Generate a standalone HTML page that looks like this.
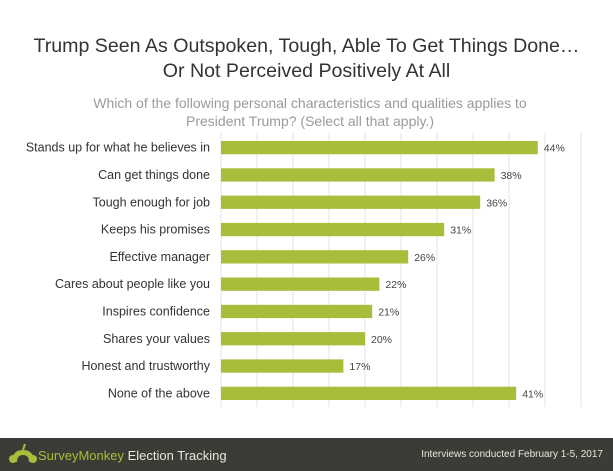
<!DOCTYPE html>
<html><head><meta charset="utf-8"><style>
body{margin:0;width:613px;height:471px;background:#fff;font-family:"Liberation Sans",sans-serif;overflow:hidden;position:relative}
.t{position:absolute;left:0;width:613px;text-align:center;color:#333;font-size:19.6px;line-height:25px}
.s{position:absolute;left:80px;width:460px;text-align:center;color:#9a9a9a;font-size:14px;line-height:18px}
#footer{position:absolute;left:0;top:438px;width:613px;height:33px;background:#3c3c36}
</style></head><body>
<div class="t" style="top:34px">Trump Seen As Outspoken, Tough, Able To Get Things Done…<br>Or Not Perceived Positively At All</div>
<div class="s" style="top:94px">Which of the following personal characteristics and qualities applies to<br>President Trump? (Select all that apply.)</div>
<svg id="chart" width="613" height="430" style="position:absolute;left:0;top:0"></svg>
<div id="footer">
<svg width="30" height="24" style="position:absolute;left:8px;top:4px"><path d="M4 20 Q4 8 15 8 Q26 8 26 20 L21 20 Q21 13 15 13 Q9 13 9 20Z" fill="#a9bd3a"/><circle cx="5" cy="17" r="4" fill="#a9bd3a"/><circle cx="25" cy="17" r="4" fill="#a9bd3a"/><path d="M15 8 L17 2" stroke="#a9bd3a" stroke-width="2"/></svg>
<span style="position:absolute;left:38px;top:10px;font-size:13px;color:#a9bd3a">SurveyMonkey <span style="color:#e8e8e0">Election Tracking</span></span>
<span style="position:absolute;right:10px;top:11px;font-size:10px;color:#e8e8e0">Interviews conducted February 1-5, 2017</span>
</div>
<script>
const categories=["Stands up for what he believes in","Can get things done","Tough enough for job","Keeps his promises","Effective manager","Cares about people like you","Inspires confidence","Shares your values","Honest and trustworthy","None of the above"];
const values=[44,38,36,31,26,22,21,20,17,41];
const ticks=[0,5,10,15,20,25,30,35,40,45,50];
const NS="http://www.w3.org/2000/svg",svg=document.getElementById('chart');
const x0=221,xw=360,xmax=50,y0=141,step=27.3,bh=13.3;
const xs=v=>x0+v/xmax*xw, ys=i=>y0+i*step;
function mk(t,a){const e=document.createElementNS(NS,t);for(const k in a)e.setAttribute(k,a[k]);svg.appendChild(e);return e;}
ticks.forEach(t=>{const l=mk('line',{x1:xs(t),x2:xs(t),y1:133,y2:407,stroke:'#e3e3e3','stroke-width':1});

});
categories.forEach((c,i)=>{
const y=ys(i);
const lb=mk('text',{x:210,y:y+bh/2+4,'text-anchor':'end','font-size':12.5,fill:'#333'});lb.textContent=c;


const r=mk('rect',{x:x0,y:y,width:xs(values[i])-x0,height:bh,fill:'#a9bd3a'});


const v=mk('text',{x:xs(values[i])+6,y:y+bh/2+4,'font-size':10.5,fill:'#444'});v.textContent=values[i]+'%';


});
</script>
</body></html>
